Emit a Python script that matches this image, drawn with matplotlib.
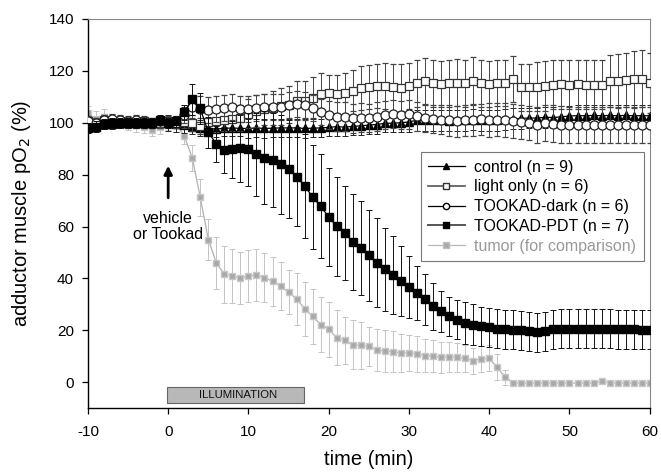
import matplotlib
matplotlib.use("Agg")
import matplotlib.pyplot as plt
from matplotlib.patches import Rectangle
from matplotlib.lines import Line2D

plt.rcParams['font.family'] = ['Liberation Sans', 'DejaVu Sans']
plt.rcParams['axes.unicode_minus'] = False

time = list(range(-10, 61))

control = [98.5, 99.0, 99.5, 99.5, 100.0, 100.0, 100.0, 100.0, 100.0, 100.0,
           100.0, 99.5, 99.0, 98.5, 98.0, 97.8, 97.6, 97.8, 98.0, 97.8,
           97.8, 98.0, 97.8, 97.9, 98.0, 98.0, 98.0, 97.8, 97.9, 98.0,
           98.2, 98.5, 98.3, 98.6, 98.8, 99.1, 99.3, 99.8, 99.8, 100.0,
           100.3, 101.0, 101.0, 101.0, 101.0, 100.8, 101.0, 101.0, 101.2, 101.0,
           101.0, 101.0, 101.3, 101.5, 101.7, 101.8, 101.8, 102.1, 102.0, 102.3,
           102.6, 102.7, 102.7, 102.8, 102.7, 102.8, 102.7, 102.8, 102.7, 102.7, 102.7]
control_sd = [2, 2, 2, 2, 2, 2, 2, 2, 2, 2,
              3, 3, 3, 3, 3, 3, 3, 3, 3, 3,
              3.5, 3.5, 3.5, 3.5, 3.5, 3.5, 3.5, 3.5, 3.5, 3.5,
              3.5, 3.5, 3.5, 3.5, 3.5, 3.5, 3.5, 3.5, 3.5, 3.5,
              4, 4, 4, 4, 4, 4, 4, 4, 4, 4,
              4, 4, 4, 4, 4, 4, 4, 4, 4, 4,
              4, 4, 4, 4, 4, 4, 4, 4, 4, 4, 4]

light = [100.5, 100.0, 101.0, 100.5, 100.5, 100.0, 100.0, 100.5, 100.0, 100.0,
         100.5, 100.5, 100.4, 100.0, 98.8, 100.2, 100.6, 101.0, 101.3, 102.0,
         103.5, 104.5, 105.2, 105.6, 106.3, 107.0, 108.5, 108.4, 109.7, 111.0,
         111.3, 111.0, 111.3, 112.4, 113.3, 113.9, 114.2, 114.2, 113.7, 113.5,
         114.2, 115.2, 115.9, 115.2, 114.9, 115.2, 115.4, 115.2, 116.2, 115.2,
         114.9, 115.3, 115.3, 116.8, 113.7, 113.7, 113.9, 114.2, 114.6, 114.8,
         114.6, 114.8, 114.6, 114.6, 114.6, 116.2, 116.0, 116.5, 116.8, 117.0, 115.4]
light_sd = [2, 2, 2, 2, 2, 2, 2, 2, 2, 2,
            2, 2, 2.5, 3, 3, 3.5, 4, 4, 4.5, 5,
            5.5, 6, 6, 6.5, 7, 7, 7.5, 7.5, 8, 8,
            7, 7.5, 8, 8, 8.5, 8.5, 8.5, 9, 9, 9,
            9, 9, 9, 9, 9, 9, 9, 9, 9, 9,
            9, 9, 9, 9, 9, 9, 9.5, 9.5, 9.5, 9.5,
            9.5, 9.5, 9.5, 9.5, 9.5, 10, 10.5, 10.5, 11, 11, 11.5]

dark = [100.5, 100.0, 101.0, 101.5, 101.0, 100.5, 101.0, 100.0, 100.0, 100.5,
        100.0, 100.0, 103.0, 106.0, 105.3, 104.9, 105.2, 105.6, 105.9, 105.4,
        105.4, 105.6, 106.0, 106.2, 106.0, 106.7, 107.2, 106.8, 105.6, 104.2,
        103.0, 102.3, 102.3, 101.7, 102.0, 101.8, 102.3, 103.0, 103.4, 103.0,
        103.2, 102.5, 101.8, 101.5, 101.2, 101.0, 100.6, 101.0, 101.0, 101.3,
        101.0, 101.2, 101.0, 100.6, 100.4, 100.0, 99.2, 100.0, 99.7, 99.3,
        99.1, 99.0, 99.2, 99.0, 99.1, 99.0, 99.1, 99.0, 99.1, 99.0, 99.1]
dark_sd = [2, 2, 2, 2, 2, 2, 2, 2, 2, 2,
           2, 2, 3, 4, 5, 5, 5, 5, 5, 5,
           5, 5, 5, 5, 5, 5, 5, 5, 5, 5,
           5.5, 5.5, 5.5, 5.5, 5.5, 5.5, 5.5, 5.5, 5.5, 5.5,
           5.5, 5.5, 5.5, 5.5, 5.5, 6, 6, 6, 6, 6,
           6.5, 6.5, 6.5, 6.5, 6.5, 6.5, 7, 7, 7, 7,
           7, 7, 7, 7, 7, 7, 7, 7, 7, 7, 7]

pdt = [98.0, 98.5, 99.5, 100.0, 100.0, 100.0, 100.0, 100.0, 100.0, 101.0,
       100.0, 100.5, 104.0, 109.0, 105.5, 96.3, 91.8, 89.5, 89.8, 90.1,
       89.8, 87.8, 86.5, 85.6, 84.0, 82.1, 79.2, 75.6, 71.4, 67.8,
       63.7, 60.1, 57.5, 54.1, 51.7, 48.9, 46.1, 43.5, 41.2, 39.0,
       36.7, 34.4, 31.9, 29.3, 27.3, 25.4, 24.1, 22.8, 22.2, 21.6,
       21.2, 20.7, 20.5, 20.2, 20.0, 19.7, 19.3, 19.7, 20.5, 20.7,
       20.7, 20.7, 20.7, 20.6, 20.6, 20.6, 20.5, 20.5, 20.4, 20.3, 20.2]
pdt_sd = [2, 2, 2, 2, 2, 2, 2, 2, 2, 2,
          2, 2, 3, 6, 6, 6, 7, 9, 11, 13,
          14, 16, 18, 18, 19, 19, 19, 20, 20, 20,
          19, 19, 18, 18.5, 18, 17.5, 17, 16, 15, 13.5,
          12, 10.5, 10, 9, 8, 7.5, 7.5, 8, 8, 7.5,
          7.5, 7.5, 7.5, 7.5, 7.5, 7.5, 7.5, 7.5, 7.5, 7.5,
          7.5, 7.5, 7.5, 7.5, 7.5, 7.5, 7.5, 7.5, 7.5, 7.5, 7.5]

tumor = [103.6, 101.4, 102.1, 101.0, 100.4, 99.8, 99.1, 98.5, 97.2, 98.2,
         99.8, 99.1, 94.9, 86.5, 71.2, 55.0, 46.0, 41.6, 40.9, 40.3,
         40.9, 41.4, 40.3, 38.9, 37.0, 34.7, 32.1, 28.3, 25.4, 22.2,
         20.4, 17.1, 16.1, 14.4, 14.2, 13.8, 12.5, 12.0, 11.8, 11.3,
         11.3, 10.9, 10.3, 10.1, 9.7, 9.9, 9.6, 9.2, 8.3, 9.0,
         9.2, 5.7, 1.9, -0.3, -0.3, -0.4, -0.3, -0.3, -0.3, -0.3,
         -0.3, -0.3, -0.3, -0.3, 0.4, -0.2, -0.3, -0.3, -0.3, -0.3, -0.3]
tumor_sd = [3, 3, 3, 2.5, 2.5, 2.5, 2.5, 2.5, 2.5, 2.5,
            2.5, 2.5, 3, 5, 7, 8, 10, 11, 10.5, 10,
            10, 10, 9.5, 9.4, 9.3, 8.5, 10, 10.3, 10.7, 10.5,
            10.7, 10.6, 9, 9.4, 9, 7.4, 8.1, 8, 7.8, 7.4,
            7, 6.8, 6.5, 6.3, 6, 5.8, 5.5, 5.3, 5, 5,
            5, 5, 3, 1, 1, 1, 1, 1, 1, 1,
            1, 1, 1, 1, 1, 1, 1, 1, 1, 1, 1]

labels = ["control (n = 9)", "light only (n = 6)", "TOOKAD-dark (n = 6)",
          "TOOKAD-PDT (n = 7)", "tumor (for comparison)"]

fig = plt.figure(figsize=(6.61, 4.73), dpi=100)
ax = fig.add_axes([0.133, 0.137, 0.850, 0.823])

common = dict(elinewidth=0.7, capsize=2, capthick=0.7, lw=0.9)

ax.errorbar(time, tumor, yerr=tumor_sd, fmt='-s', color='#b0b0b0',
            mfc='#a8a8a8', mec='#c8c8c8', ms=5, ecolor='#c4c4c4',
            zorder=2, **common)
ax.errorbar(time, control, yerr=control_sd, fmt='-^', color='black',
            mfc='black', mec='black', ms=5.5, ecolor='#222222',
            zorder=3, **common)
ax.errorbar(time, light, yerr=light_sd, fmt='-s', color='#555555',
            mfc='white', mec='#333333', ms=5.5, mew=0.9, ecolor='#444444',
            zorder=4, **common)
ax.errorbar(time, dark, yerr=dark_sd, fmt='-o', color='#222222',
            mfc='white', mec='#222222', ms=6.5, mew=0.9, ecolor='#444444',
            zorder=5, **common)
ax.errorbar(time, pdt, yerr=pdt_sd, fmt='-s', color='black',
            mfc='black', mec='black', ms=5.5, ecolor='#111111',
            zorder=6, **common)

ax.set_xlim(-10, 60)
ax.set_ylim(-10, 140)
ax.set_xticks([-10, 0, 10, 20, 30, 40, 50, 60])
ax.set_yticks([0, 20, 40, 60, 80, 100, 120, 140])
ax.tick_params(axis='both', labelsize=11, direction='out', length=4, width=0.9)
ax.tick_params(axis='x', pad=8)
ax.tick_params(axis='y', pad=6)
for s in ['top', 'right']:
    ax.spines[s].set_color('#888888')
    ax.spines[s].set_linewidth(0.8)
for s in ['left', 'bottom']:
    ax.spines[s].set_linewidth(1.0)

ax.set_xlabel("time (min)", fontsize=14.5, labelpad=8)
ax.set_ylabel("adductor muscle pO$_2$ (%)", fontsize=14.5, labelpad=11)

handles = [
    Line2D([], [], color='black', lw=0.9, marker='^', ms=4, mfc='black', mec='black'),
    Line2D([], [], color='#555555', lw=1.2, marker='s', ms=4, mfc='white', mec='#333333'),
    Line2D([], [], color='black', lw=0.9, marker='o', ms=4.5, mfc='white', mec='black'),
    Line2D([], [], color='#555555', lw=1.4, marker='s', ms=4.5, mfc='black', mec='black'),
    Line2D([], [], color='#b8b8b8', lw=0.9, marker='s', ms=4, mfc='#a8a8a8', mec='#c0c0c0'),
]
leg = ax.legend(handles, labels,
                loc='upper left', bbox_to_anchor=(0.5925, 0.657), borderaxespad=0,
                fontsize=11.5, frameon=True, fancybox=False, edgecolor='#555555',
                handlelength=2.3, handletextpad=0.6, labelspacing=0.3,
                borderpad=0.45)
leg.get_frame().set_linewidth(0.8)
leg.get_texts()[4].set_color('#999999')

ax.annotate("", xy=(0, 84.5), xytext=(0, 70),
            arrowprops=dict(arrowstyle='-|>', lw=2, color='black', mutation_scale=12))
ax.text(0, 60, "vehicle\nor Tookad", ha='center', va='center', fontsize=11.5,
        linespacing=1.1)

ax.add_patch(Rectangle((-0.2, -8), 17.1, 6.3, facecolor='#b8b8b8',
                       edgecolor='#666666', lw=0.8, zorder=2))
ax.text(8.7, -4.85, "ILLUMINATION", ha='center', va='center', fontsize=8.2,
        color='#111111', zorder=3)

fig.savefig("out.png", dpi=100)
